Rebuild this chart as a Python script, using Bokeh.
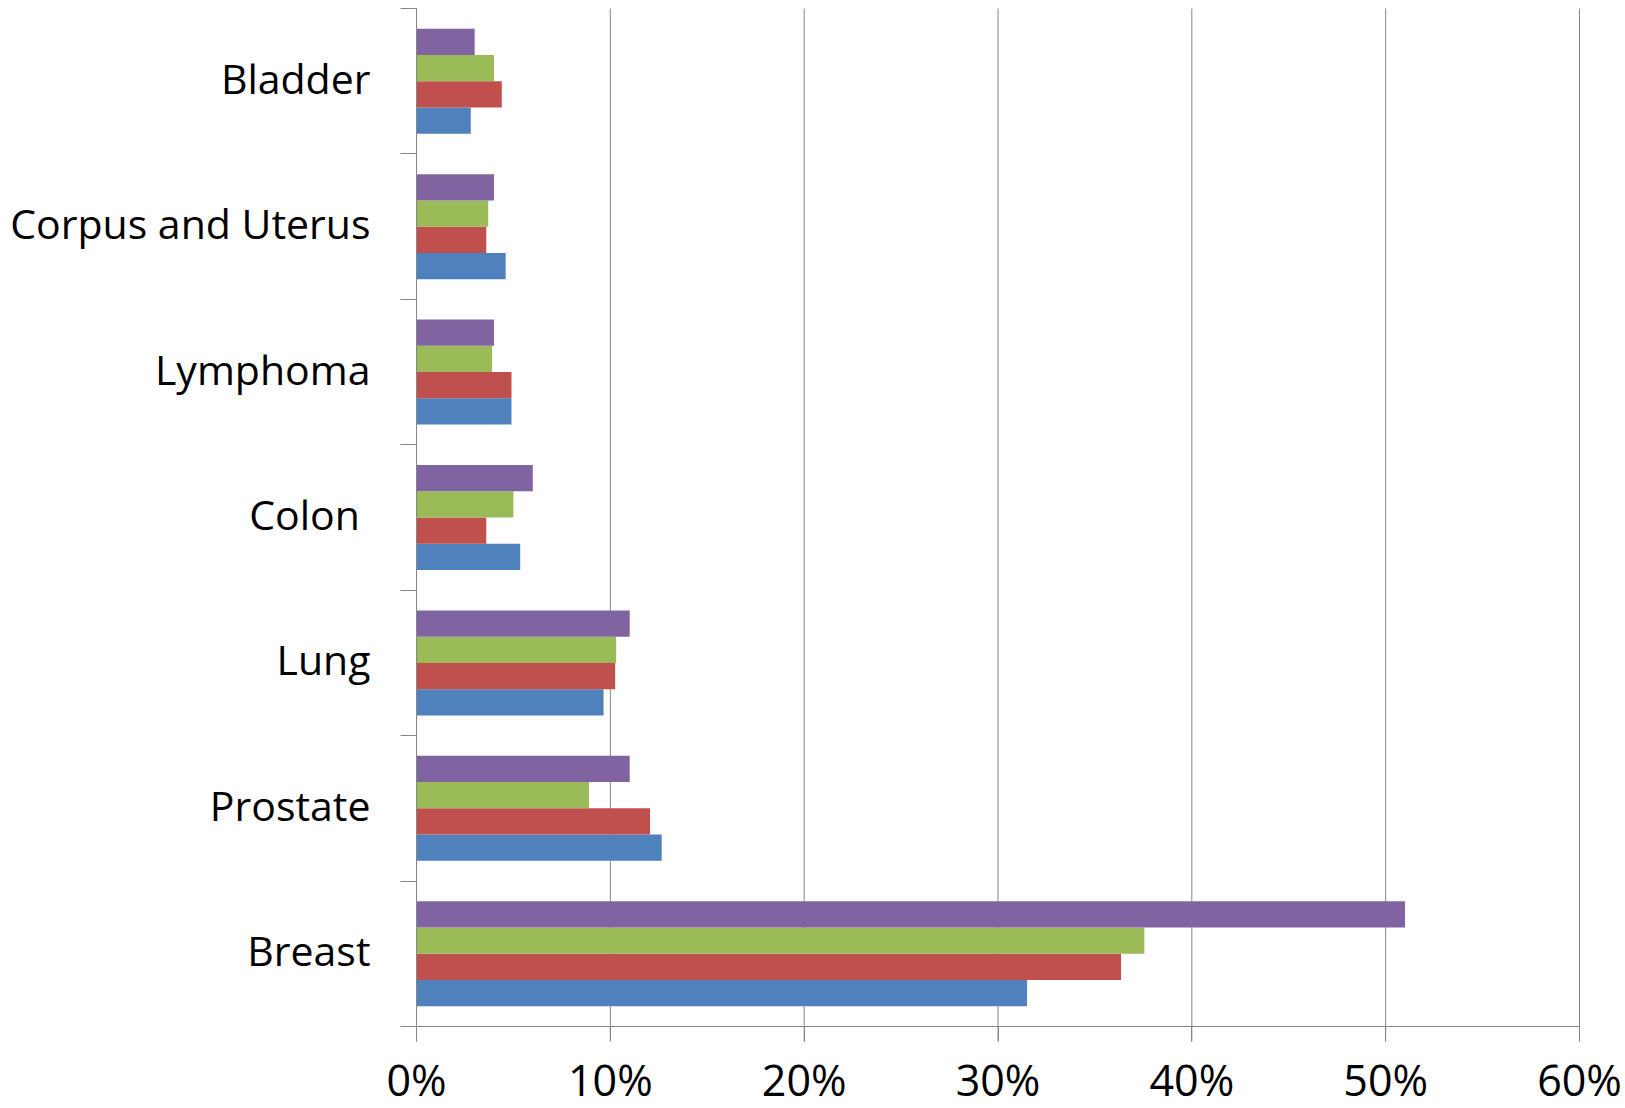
from bokeh.plotting import figure
from bokeh.models import Range1d, FixedTicker, PrintfTickFormatter, ColumnDataSource
from bokeh.embed import file_html
from bokeh.resources import INLINE

# Categories listed bottom to top
categories = ["Breast", "Prostate", "Lung", "Colon\u00a0", "Lymphoma", "Corpus and Uterus", "Bladder"]
# Series values in percent (series 1 drawn lowest in each group)
series1 = [31.5, 12.65, 9.65, 5.35, 4.9, 4.6, 2.8]
series2 = [36.35, 12.05, 10.25, 3.6, 4.9, 3.6, 4.4]
series3 = [37.55, 8.9, 10.3, 5.0, 3.9, 3.7, 4.0]
series4 = [51.0, 11.0, 11.0, 6.0, 4.0, 4.0, 3.0]
x_ticks = [0, 10, 20, 30, 40, 50, 60]

colors = ["#4F81BD", "#C0504D", "#9BBB59", "#8064A2"]
FONT = "Open Sans"
GREY = "#868686"

W, H = 1625, 1108
n = len(categories)
x_max = x_ticks[-1]

# plot area in page pixels: left 416, right 1579, top 8, baseline 1026
PL, PR, PT, PB = 416, 1579, 8, 1026
xu = (PR - PL) / x_max           # pixels per percent
yu = (PB - PT) / n               # pixels per category band
tick_pad = 15 / yu               # x tick length in data units
label_lift = 3.5 / yu            # small upward nudge of category labels

p = figure(width=W, height=H, output_backend="svg", toolbar_location=None,
           x_range=Range1d(-PL / xu, x_max + (W - PR) / xu),
           y_range=Range1d(-(H - PB) / yu, n + PT / yu),
           min_border_left=0, min_border_right=0, min_border_top=0, min_border_bottom=0)
p.outline_line_color = None
p.background_fill_color = "white"
p.border_fill_color = "white"

# vertical gridlines (continue below the baseline as the x ticks)
p.segment(x0=x_ticks, y0=[-tick_pad] * len(x_ticks), x1=x_ticks, y1=[n] * len(x_ticks),
          line_color=GREY, line_width=1)

bar_h = 0.1805
offsets = [-1.5, -0.5, 0.5, 1.5]
for vals, col, off in zip([series1, series2, series3, series4], colors, offsets):
    src = ColumnDataSource(dict(y=[i + 0.5 + off * bar_h for i in range(n)], right=vals))
    p.hbar(y="y", left=0, right="right", height=bar_h, source=src,
           fill_color=col, line_color=None)

# x axis sits at the category baseline
p.xaxis.fixed_location = 0
p.xaxis.bounds = (0, x_max)
p.xaxis.ticker = FixedTicker(ticks=x_ticks, minor_ticks=[])
p.xaxis.formatter = PrintfTickFormatter(format="%d%%")
p.xaxis.axis_line_color = GREY
p.xaxis.major_tick_line_color = GREY
p.xaxis.major_tick_in = 0
p.xaxis.major_tick_out = 15
p.xaxis.major_label_standoff = 8
p.xaxis.major_label_text_font = FONT
p.xaxis.major_label_text_font_size = "43px"
p.xaxis.major_label_text_color = "black"

# y axis at 0%: labels at category centres, ticks at boundaries
label_pos = [i + 0.5 + label_lift for i in range(n)]
p.yaxis.fixed_location = 0
p.yaxis.bounds = (-tick_pad, n)
p.yaxis.ticker = FixedTicker(ticks=label_pos, minor_ticks=list(range(n + 1)))
p.yaxis.major_label_overrides = {pos: c for pos, c in zip(label_pos, categories)}
p.yaxis.axis_line_color = GREY
p.yaxis.major_tick_line_color = None
p.yaxis.major_tick_in = 0
p.yaxis.major_tick_out = 0
p.yaxis.minor_tick_line_color = GREY
p.yaxis.minor_tick_in = 0
p.yaxis.minor_tick_out = 16
p.yaxis.major_label_standoff = 30
p.yaxis.major_label_text_font = FONT
p.yaxis.major_label_text_font_size = "41px"
p.yaxis.major_label_text_color = "black"

p.xgrid.grid_line_color = None
p.ygrid.grid_line_color = None

open("out.html", "w").write(file_html(p, INLINE))
